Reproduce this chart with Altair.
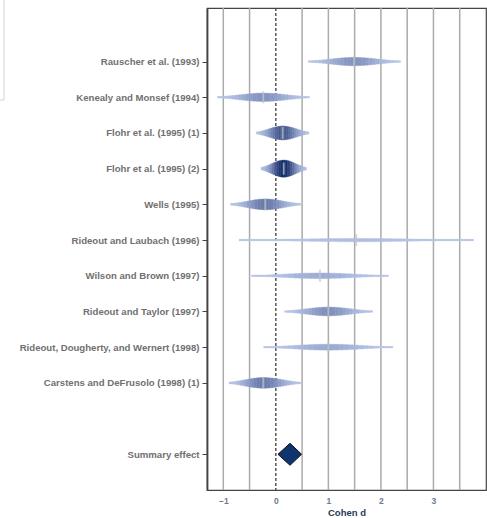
import numpy as np
import pandas as pd
import altair as alt

# Study-level effect sizes (Cohen d) with 95% confidence limits and weights (%)
studies = [
    "Rauscher et al. (1993)",
    "Kenealy and Monsef (1994)",
    "Flohr et al. (1995) (1)",
    "Flohr et al. (1995) (2)",
    "Wells (1995)",
    "Rideout and Laubach (1996)",
    "Wilson and Brown (1997)",
    "Rideout and Taylor (1997)",
    "Rideout, Dougherty, and Wernert (1998)",
    "Carstens and DeFrusolo (1998) (1)",
]
estimate = [1.49, -0.24, 0.13, 0.15, -0.20, 1.53, 0.84, 1.00, 1.00, -0.24]
lower = [0.62, -1.11, -0.37, -0.28, -0.86, -0.70, -0.46, 0.17, -0.23, -0.89]
upper = [2.37, 0.64, 0.63, 0.58, 0.47, 3.76, 2.14, 1.84, 2.23, 0.47]
weight = [6.9, 6.9, 18.9, 29.0, 11.6, 1.1, 3.1, 7.6, 3.5, 11.3]

summary_label = "Summary effect"
summary_est = 0.27
summary_lower = 0.04
summary_upper = 0.49

x_ticks = [-1, 0, 1, 2, 3]
grid_values = [-1.0, -0.5, 0.0, 0.5, 1.0, 1.5, 2.0, 2.5, 3.0, 3.5]

# Row positions: studies on rows 1..10, one empty row, summary on row 12
rows = list(range(1, len(studies) + 1))
summary_row = len(studies) + 2

W, H = 279, 482
y_domain = [-0.5, 13.0]
unit_px = H / (y_domain[1] - y_domain[0])
max_half_px = 8.5
n_seg = 26

study_df = pd.DataFrame({
    "study": studies, "row": rows, "est": estimate,
    "lo": lower, "hi": upper, "w": weight,
})

# Rainforest shapes: likelihood across each confidence interval, drawn as
# thin slices whose height and shade follow the study weight
seg_rows = []
wmax = max(weight)
for s, r, e, lo, hi, w in zip(studies, rows, estimate, lower, upper, weight):
    edges = np.linspace(lo, hi, n_seg + 1)
    rel = np.sqrt(w / wmax)
    for a, b in zip(edges[:-1], edges[1:]):
        c = 0.5 * (a + b)
        sd = (e - lo) / 1.96 if c < e else (hi - e) / 1.96
        dens = float(np.exp(-0.5 * ((c - e) / sd) ** 2))
        half = max(rel * dens * max_half_px, 0.7) / unit_px
        seg_rows.append({
            "study": s, "x": a, "x2": b,
            "y": r - half, "y2": r + half,
            "shade": rel * dens,
        })
seg_df = pd.DataFrame(seg_rows)

# Summary diamond outline
sum_half = 11 / unit_px
diamond_df = pd.DataFrame({
    "x": [summary_lower, summary_est, summary_upper],
    "y": [summary_row, summary_row - sum_half, summary_row],
    "y2": [summary_row, summary_row + sum_half, summary_row],
})

grid_df = pd.DataFrame({"g": [g for g in grid_values if g != 0.0]})
zero_df = pd.DataFrame({"g": [0.0]})

x_scale = alt.Scale(domain=[-1.31, 4.0], nice=False, zero=False)
y_scale = alt.Scale(domain=y_domain, reverse=True, nice=False, zero=False)

labels_js = "[" + ",".join(
    ["''"] + ["'" + s + "'" for s in studies] + ["''", "'" + summary_label + "'"]
) + "][datum.value]"

x_axis = alt.Axis(
    values=x_ticks, grid=False, ticks=False, domain=False,
    labelFont="Liberation Sans", labelFontSize=8.5, labelFontWeight="bold",
    labelColor="#6b7a90", labelPadding=6, title="Cohen d",
    titleFont="Liberation Sans", titleFontSize=9.5, titleFontWeight="bold",
    titleColor="#2a3a55", titlePadding=3,
)
y_axis = alt.Axis(
    values=rows + [summary_row], labelExpr=labels_js, grid=False,
    ticks=True, tickSize=5, tickColor="#444444", domain=True,
    domainColor="#444444", domainWidth=1.8,
    labelFont="Liberation Sans", labelFontSize=9.6, labelFontWeight="bold",
    labelColor="#707070", labelPadding=3, title=None,
)


def xq(field):
    return alt.X(field, type="quantitative", scale=x_scale, axis=x_axis,
                 title="Cohen d")


def yq(field):
    return alt.Y(field, type="quantitative", scale=y_scale, axis=y_axis,
                 title=None)


grid = alt.Chart(grid_df).mark_rule(color="#ababab", strokeWidth=1.5).encode(
    x=xq("g"), y=alt.value(0), y2=alt.value(H),
)

zero = alt.Chart(zero_df).mark_rule(
    color="#4a4a4a", strokeWidth=1.4, strokeDash=[3, 2]
).encode(x=xq("g"), y=alt.value(0), y2=alt.value(H))

ci = alt.Chart(study_df).mark_rule(color="#b3b3b3", strokeWidth=1.5).encode(
    x=xq("lo"), x2="hi:Q", y=yq("row"),
)

shade_scale = alt.Scale(type="pow", exponent=1.6, domain=[0, 1],
                        range=["#bccbeb", "#0b2a68"])
shapes = alt.Chart(seg_df).mark_rect(strokeWidth=0.4).encode(
    x=xq("x"), x2="x2:Q", y=yq("y"), y2="y2:Q",
    color=alt.Color("shade:Q", legend=None, scale=shade_scale),
    stroke=alt.Stroke("shade:Q", legend=None, scale=shade_scale),
)

ticks = alt.Chart(study_df).mark_tick(
    orient="vertical", size=12, thickness=2, color="#c4c4c4"
).encode(x=xq("est"), y=yq("row"))

diamond = alt.Chart(diamond_df).mark_area(
    color="#0f3470", stroke="#111111", strokeWidth=1
).encode(x=xq("x"), y=yq("y"), y2="y2:Q")

# Border of the legend panel sitting at the far left
legend_box = alt.Chart(pd.DataFrame({"k": [0]})).mark_rect(
    fill="white", stroke="#d4d4d4", strokeWidth=1
).encode(
    x=alt.value(-420), x2=alt.value(-203),
    y=alt.value(-20), y2=alt.value(92),
)

chart = alt.layer(
    legend_box, grid, zero, ci, shapes, ticks, diamond
).properties(
    width=W, height=H,
    autosize=alt.AutoSizeParams(type="none"),
    padding={"left": 207, "top": 8, "right": 1, "bottom": 28},
    background="white",
).configure_view(stroke="#444444", strokeWidth=1.2)

chart.save("out.html", embed_options={"renderer": "svg", "actions": False})
